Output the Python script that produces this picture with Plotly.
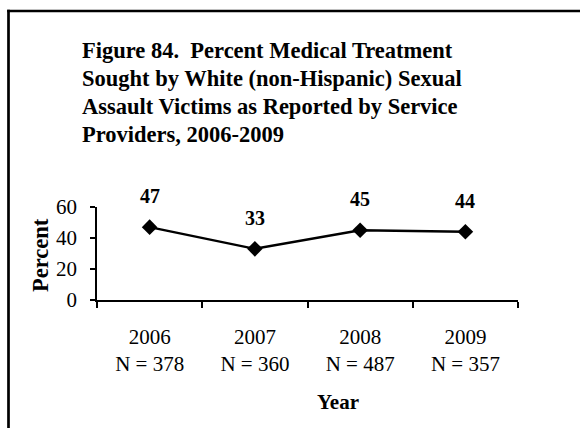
import plotly.graph_objects as go

years = ["2006", "2007", "2008", "2009"]
n_values = [378, 360, 487, 357]
percent = [47, 33, 45, 44]
title_lines = [
    "Figure 84.  Percent Medical Treatment",
    "Sought by White (non-Hispanic) Sexual",
    "Assault Victims as Reported by Service",
    "Providers, 2006-2009",
]
y_ticks = [0, 20, 40, 60]

FONT = "Liberation Serif, Times New Roman, serif"
W, H = 580, 428
L, R, T, B = 97, 62, 207, 128
PW, PH = W - L - R, H - T - B

def px(x):
    return (x - L) / PW

def py(y):
    return (H - B - y) / PH

cats = [f"{y}<br>N = {n}" for y, n in zip(years, n_values)]

fig = go.Figure()
fig.add_trace(go.Scatter(
    x=cats, y=percent, mode="lines+markers",
    line=dict(color="black", width=2.5),
    marker=dict(symbol="diamond", size=12, color="black"),
    cliponaxis=False, showlegend=False, hoverinfo="skip",
))

annotations = []
for c, v in zip(cats, percent):
    annotations.append(dict(
        x=c, y=v, xref="x", yref="y", text=f"<b>{v}</b>", showarrow=False,
        yshift=31, font=dict(family=FONT, size=20, color="black"),
    ))

title_y = [50, 78, 106, 134]
for line, ty in zip(title_lines, title_y):
    annotations.append(dict(
        x=px(80), y=py(ty), xref="paper", yref="paper", text=f"<b>{line}</b>",
        showarrow=False, xanchor="left", yanchor="middle",
        font=dict(family=FONT, size=22.5, color="black"),
    ))

annotations.append(dict(
    x=px(40), y=py(255), xref="paper", yref="paper", text="<b>Percent</b>",
    showarrow=False, textangle=-90, xanchor="center", yanchor="middle",
    font=dict(family=FONT, size=22.5, color="black"),
))
annotations.append(dict(
    x=px(338), y=py(402), xref="paper", yref="paper", text="<b>Year</b>",
    showarrow=False, xanchor="center", yanchor="middle",
    font=dict(family=FONT, size=21, color="black"),
))

shapes = [
    dict(type="line", xref="paper", yref="paper", x0=px(7.2), x1=px(600),
         y0=py(11), y1=py(11), line=dict(color="black", width=2.7)),
    dict(type="line", xref="paper", yref="paper", x0=px(8.5), x1=px(8.5),
         y0=py(9.7), y1=py(450), line=dict(color="black", width=2.7)),
]

fig.update_layout(
    width=W, height=H,
    margin=dict(l=L, r=R, t=T, b=B, pad=0),
    paper_bgcolor="white", plot_bgcolor="white",
    font=dict(family=FONT, size=21, color="black"),
    annotations=annotations, shapes=shapes,
    xaxis=dict(
        type="category", range=[-0.5, 3.5], tickson="boundaries",
        ticks="outside", ticklen=6, ticklabelstandoff=17,
        tickcolor="black", tickwidth=1.5, showline=True, linecolor="black",
        linewidth=1.5, showgrid=False, zeroline=False,
        tickfont=dict(family=FONT, size=21), fixedrange=True,
    ),
    yaxis=dict(
        range=[0, 60], tickvals=y_ticks, ticks="outside", ticklen=5,
        ticklabelstandoff=9,
        tickcolor="black", tickwidth=1.5, showline=True, linecolor="black",
        linewidth=1.5, showgrid=False, zeroline=False,
        tickfont=dict(family=FONT, size=21), fixedrange=True,
    ),
)

fig.write_html(
    "out.html",
    config={"displayModeBar": False},
    post_script="document.body.style.margin='0';document.body.style.overflow='hidden';",
)
